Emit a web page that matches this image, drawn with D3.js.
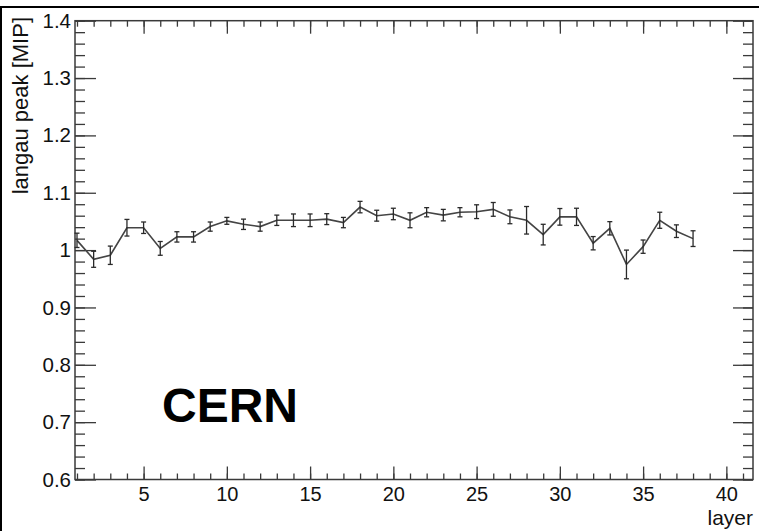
<!DOCTYPE html>
<html>
<head>
<meta charset="utf-8">
<script src="https://cdn.jsdelivr.net/npm/d3@7"></script>
<style>
  html, body { margin: 0; padding: 0; background: #fff; }
  svg { display: block; }
  text { font-family: "Liberation Sans", Arial, Helvetica, sans-serif; }
</style>
</head>
<body>
<svg id="chart" width="759" height="531"></svg>
<script>
// ---- data ----
const layers = [1,2,3,4,5,6,7,8,9,10,11,12,13,14,15,16,17,18,19,20,21,22,23,24,25,26,27,28,29,30,31,32,33,34,35,36,37,38];
const peakValues = [1.017,0.984,0.991,1.039,1.039,1.003,1.023,1.023,1.041,1.051,1.045,1.041,1.052,1.052,1.052,1.054,1.048,1.075,1.060,1.063,1.052,1.066,1.061,1.066,1.067,1.071,1.058,1.052,1.027,1.058,1.058,1.012,1.038,0.975,1.006,1.052,1.033,1.020];
const peakErrors = [0.0125,0.014,0.016,0.0145,0.010,0.012,0.009,0.009,0.008,0.006,0.009,0.008,0.009,0.011,0.011,0.0095,0.009,0.010,0.0095,0.010,0.013,0.008,0.010,0.008,0.012,0.012,0.012,0.024,0.018,0.0145,0.015,0.0116,0.0116,0.025,0.0116,0.014,0.011,0.0137];
const xMajorTicks = [5,10,15,20,25,30,35,40];
const xMinorTicks = d3.range(1, 42);
const yMajorTicks = [0.6,0.7,0.8,0.9,1.0,1.1,1.2,1.3,1.4];
const yTickLabels = ["0.6","0.7","0.8","0.9","1","1.1","1.2","1.3","1.4"];
const yMinorTicks = d3.range(0, 41).map(i => +(0.6 + i * 0.02).toFixed(2));
const xTitle = "layer";
const yTitle = "langau peak [MIP]";
const stamp = "CERN";

// ---- layout ----
const svg = d3.select("#chart");
const L = 75, R = 753, T = 20.7, B = 479.5;
const x = d3.scaleLinear().domain([0.88, 41.6]).range([L, R]);
const y = d3.scaleLinear().domain([0.6, 1.4]).range([B, T]);
const axisColor = "#3a3a3a";

// outer figure border (top and left)
svg.append("line").attr("x1", 0).attr("x2", 759).attr("y1", 7).attr("y2", 7)
  .attr("stroke", "#000").attr("stroke-width", 2);
svg.append("line").attr("x1", 1).attr("x2", 1).attr("y1", 7).attr("y2", 531)
  .attr("stroke", "#000").attr("stroke-width", 2);

function styleAxis(g) {
  g.select(".domain").remove();
  g.selectAll(".tick line").attr("stroke", axisColor).attr("stroke-width", 1.3);
  g.selectAll(".tick text").attr("fill", "#111")
    .style("font-family", '"Liberation Sans", Arial, sans-serif');
}

// bottom axis
svg.append("g").attr("transform", `translate(0,${B})`)
  .call(d3.axisBottom(x).tickValues(xMinorTicks).tickSizeInner(-6).tickSizeOuter(0).tickFormat(""))
  .call(styleAxis);
svg.append("g").attr("transform", `translate(0,${B})`)
  .call(d3.axisBottom(x).tickValues(xMajorTicks).tickSizeInner(-13).tickSizeOuter(0).tickPadding(7).tickFormat(d3.format("d")))
  .call(styleAxis)
  .call(g => g.selectAll(".tick text").style("font-size", "20px"));
// top axis
svg.append("g").attr("transform", `translate(0,${T})`)
  .call(d3.axisTop(x).tickValues(xMinorTicks).tickSizeInner(-6).tickSizeOuter(0).tickFormat(""))
  .call(styleAxis);
svg.append("g").attr("transform", `translate(0,${T})`)
  .call(d3.axisTop(x).tickValues(xMajorTicks).tickSizeInner(-13).tickSizeOuter(0).tickFormat(""))
  .call(styleAxis);
// left axis
svg.append("g").attr("transform", `translate(${L},0)`)
  .call(d3.axisLeft(y).tickValues(yMinorTicks).tickSizeInner(-10).tickSizeOuter(0).tickFormat(""))
  .call(styleAxis);
svg.append("g").attr("transform", `translate(${L},0)`)
  .call(d3.axisLeft(y).tickValues(yMajorTicks).tickSizeInner(-21).tickSizeOuter(0).tickPadding(4)
    .tickFormat((d, i) => yTickLabels[i]))
  .call(styleAxis)
  .call(g => g.selectAll(".tick text").style("font-size", "20.5px"));
// right axis
svg.append("g").attr("transform", `translate(${R},0)`)
  .call(d3.axisRight(y).tickValues(yMinorTicks).tickSizeInner(-10).tickSizeOuter(0).tickFormat(""))
  .call(styleAxis);
svg.append("g").attr("transform", `translate(${R},0)`)
  .call(d3.axisRight(y).tickValues(yMajorTicks).tickSizeInner(-20).tickSizeOuter(0).tickFormat(""))
  .call(styleAxis);

// frame
svg.append("rect").attr("x", L).attr("y", T).attr("width", R - L).attr("height", B - T)
  .attr("fill", "none").attr("stroke", axisColor).attr("stroke-width", 1.5);

// data line
const pts = layers.map((l, i) => ({ l, v: peakValues[i], e: peakErrors[i] }));
svg.append("path").datum(pts)
  .attr("fill", "none").attr("stroke", "#444").attr("stroke-width", 1.6)
  .attr("d", d3.line().x(d => x(d.l)).y(d => y(d.v)));

// error bars
const eb = svg.append("g").attr("stroke", "#2a2a2a").attr("stroke-width", 1.3);
pts.forEach(d => {
  const cx = x(d.l), y1 = y(d.v - d.e), y2 = y(d.v + d.e);
  eb.append("line").attr("x1", cx).attr("x2", cx).attr("y1", y1).attr("y2", y2);
  eb.append("line").attr("x1", cx - 2.5).attr("x2", cx + 2.5).attr("y1", y1).attr("y2", y1);
  eb.append("line").attr("x1", cx - 2.5).attr("x2", cx + 2.5).attr("y1", y2).attr("y2", y2);
});

// titles
svg.append("text").attr("x", R).attr("y", 525).attr("text-anchor", "end")
  .style("font-size", "21px").attr("fill", "#111").text(xTitle);
svg.append("text").attr("transform", "translate(28,17) rotate(-90)").attr("text-anchor", "end")
  .style("font-size", "22px").attr("fill", "#111").text(yTitle);

// stamp
svg.append("text").attr("x", 162).attr("y", 422)
  .style("font-size", "48px").style("font-weight", "bold").attr("fill", "#000").text(stamp);
</script>
</body>
</html>
